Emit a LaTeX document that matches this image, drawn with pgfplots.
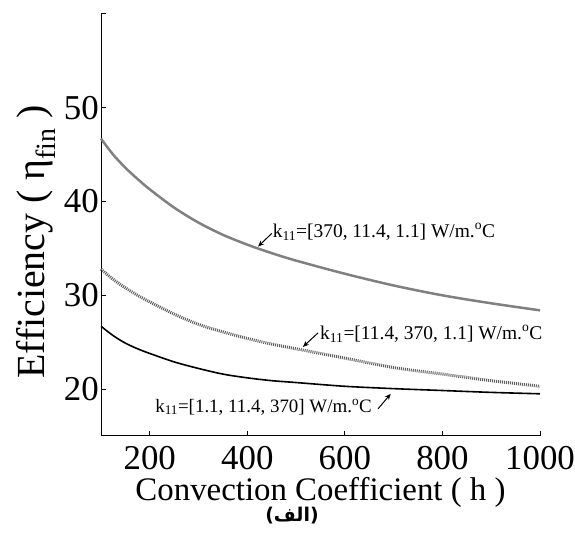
\documentclass[border=0pt]{standalone}
\usepackage{pgfplots}
\pgfplotsset{compat=1.18}
\usepackage{fontspec}
\setmainfont{Liberation Serif}
\newfontfamily\arabicfont[Script=Arabic]{DejaVu Sans}
\newfontfamily\dejavu{DejaVu Sans}
\usetikzlibrary{arrows.meta}
\TeXXeTstate=1
\definecolor{lgray}{RGB}{128,128,128}
\definecolor{dgray}{RGB}{95,95,95}
\begin{document}
\begin{tikzpicture}[x=1bp,y=1bp]
\useasboundingbox (0,0) rectangle (575,543);
\begin{axis}[
  at={(101bp,107bp)}, anchor=south west,
  scale only axis, width=439bp, height=422bp,
  xmin=100, xmax=1000, ymin=15, ymax=60,
  axis lines=left, axis line style={-, line width=1bp},
  xtick={200,400,600,800,1000},
  ytick={20,30,40,50,60},
  yticklabels={20,30,40,50,{}},
  tick align=inside, major tick length=5bp,
  tick style={line width=1bp, black},
  /pgf/number format/assume math mode=true,
  /pgf/number format/1000 sep={},
  tick label style={font=\fontsize{35}{37}\selectfont},
  xticklabel style={anchor=base, yshift=-34bp, inner sep=0pt},
  yticklabel style={inner xsep=2bp},
  xlabel={Convection Coefficient ( h )},
  xlabel style={at={(axis description cs:0.5,-0.154)}, anchor=base, inner sep=0pt, font=\fontsize{33}{35}\selectfont},
  ylabel={Efficiency ( η\textsubscript{fin} )},
  ylabel style={at={(axis description cs:-0.128,0.46)}, anchor=base, inner sep=0pt, font=\fontsize{40}{42}\selectfont},
  clip=false,
]
\addplot[lgray, line width=2.5bp, smooth] coordinates {
(100,46.7) (125,45.0) (150,43.6) (175,42.4) (200,41.3) (250,39.35) (300,37.75) (350,36.45) (400,35.4) (450,34.5) (500,33.7) (600,32.3) (700,31.05) (800,30.0) (900,29.15) (1000,28.4)};
\addplot[dgray, line width=3bp, dash pattern=on 1bp off 1bp, smooth] coordinates {
(100,32.8) (125,31.7) (150,30.8) (175,30.0) (200,29.3) (250,28.0) (300,26.9) (350,26.1) (400,25.4) (450,24.8) (500,24.3) (600,23.3) (700,22.3) (800,21.6) (900,20.9) (1000,20.3)};
\addplot[black, line width=1.6bp, smooth] coordinates {
(100,26.7) (125,25.7) (150,24.9) (175,24.3) (200,23.8) (250,22.9) (300,22.2) (350,21.6) (400,21.2) (450,20.9) (500,20.7) (600,20.3) (700,20.05) (800,19.85) (900,19.65) (1000,19.5)};
% annotations
\node[anchor=base west, inner sep=0pt, font=\fontsize{19.5}{21}\selectfont] at (axis cs:452,36.2) {k\textsubscript{11}=[370, 11.4, 1.1] W/m.\textsuperscript{o}C};
\draw[-{Stealth[length=6bp,width=5bp]}, line width=1bp] (axis cs:450,36.6) -- (axis cs:422,35.2);
\node[anchor=base west, inner sep=0pt, font=\fontsize{19.5}{21}\selectfont] at (axis cs:549,25.3) {k\textsubscript{11}=[11.4, 370, 1.1] W/m.\textsuperscript{o}C};
\draw[-{Stealth[length=6bp,width=5bp]}, line width=1bp] (axis cs:545,26.0) -- (axis cs:514,24.5);
\node[anchor=base west, inner sep=0pt, font=\fontsize{19}{21}\selectfont] at (axis cs:211,17.55) {k\textsubscript{11}=[1.1, 11.4, 370] W/m.\textsuperscript{o}C};
\draw[-{Stealth[length=6bp,width=5bp]}, line width=1bp] (axis cs:668,17.9) -- (axis cs:694,19.5);
\end{axis}
\node[font=\fontsize{19}{21}\selectfont\bfseries] at (292,27) {{\dejavu (}{\arabicfont الف}{\dejavu )}};
\end{tikzpicture}
\end{document}
